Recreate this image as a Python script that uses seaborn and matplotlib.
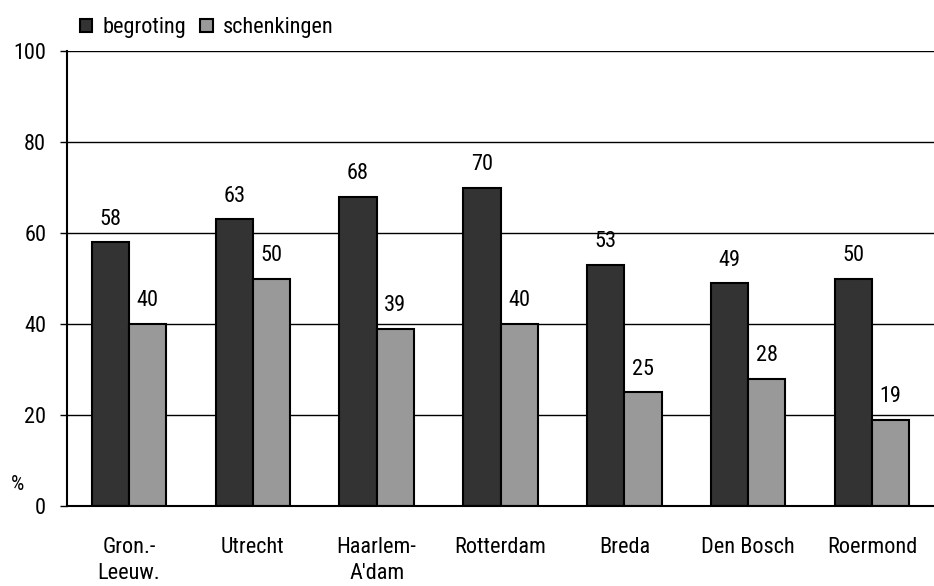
import matplotlib
matplotlib.use("Agg")
import matplotlib.pyplot as plt
import seaborn as sns
import pandas as pd
from matplotlib import font_manager

categories = ["Gron.-\nLeeuw.", "Utrecht", "Haarlem-\nA'dam", "Rotterdam", "Breda", "Den Bosch", "Roermond"]
begroting = [58, 63, 68, 70, 53, 49, 50]
schenkingen = [40, 50, 39, 40, 25, 28, 19]
series_names = ["begroting", "schenkingen"]
colors = ["#333333", "#999999"]

df = pd.DataFrame({
    "cat": categories * 2,
    "val": begroting + schenkingen,
    "series": [series_names[0]] * len(categories) + [series_names[1]] * len(categories),
})

sns.set_theme(style="white")
names = {f.name for f in font_manager.fontManager.ttflist}
fam = "Roboto Condensed" if "Roboto Condensed" in names else "Liberation Sans"
plt.rcParams["font.family"] = [fam, "DejaVu Sans"]
FS = 16

fig = plt.figure(figsize=(9.34, 5.86), dpi=100)
ax = fig.add_axes([67 / 934, 1 - 506 / 586, 1 - 67 / 934, (506 - 51) / 586])

sns.barplot(data=df, x="cat", y="val", hue="series", palette=colors, width=0.6,
            edgecolor="black", linewidth=1.5, ax=ax, legend=True, saturation=1)

ax.set_ylim(0, 100)
ax.set_xlim(-0.5, len(categories) - 0.5)
ax.set_yticks([0, 20, 40, 60, 80, 100])
ax.yaxis.grid(True, color="black", linewidth=1)
ax.set_axisbelow(True)
for s in ["top", "right"]:
    ax.spines[s].set_visible(False)
ax.spines["left"].set_color("black")
ax.spines["left"].set_linewidth(1.5)
ax.spines["bottom"].set_color("black")
ax.spines["bottom"].set_linewidth(1.5)
ax.tick_params(axis="y", left=True, length=5, width=1, color="black", labelsize=FS, pad=10,
               labelcolor="black")
ax.tick_params(axis="x", bottom=False, labelsize=FS, pad=16, labelcolor="black")
for lbl in ax.get_xticklabels():
    lbl.set_linespacing(1.35)
    lbl.set_verticalalignment("top")
ax.set_xlabel("")
ax.set_ylabel("")

for cont in ax.containers:
    ax.bar_label(cont, fmt="%d", padding=9, fontsize=FS, color="black")

fig.text(18 / 934, 1 - 485 / 586, "%", fontsize=FS - 1, ha="center", va="center", color="black")

leg = ax.legend(loc="center left", bbox_to_anchor=(13 / 867, (506 - 28) / 455), ncol=2, frameon=False,
                fontsize=FS, handlelength=0.55, handleheight=0.55, handletextpad=0.45,
                columnspacing=0.65, borderaxespad=0, borderpad=0)
for h in leg.legend_handles:
    h.set_edgecolor("black")
    h.set_linewidth(1.5)
for t in leg.get_texts():
    t.set_color("black")

fig.savefig("out.png", dpi=100)
